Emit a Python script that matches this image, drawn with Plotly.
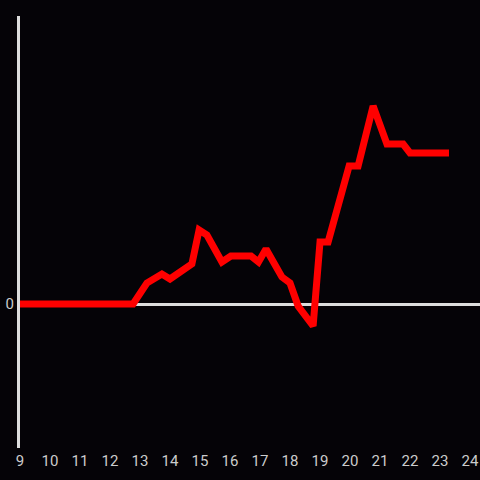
import plotly.graph_objects as go

x_vals = [9.0, 12.77, 13.23, 13.73, 14.0, 14.73, 14.97, 15.23, 15.73, 16.03, 16.7, 16.95, 17.2,
          17.73, 18.0, 18.27, 18.77, 19.0, 19.27, 19.97, 20.27, 20.77, 21.23, 21.77, 22.0, 23.3]
y_vals = [0, 0, 21, 30, 25, 40, 74, 69, 42, 48, 48, 42, 55,
          27, 21, -2, -22, 62, 62, 138, 138, 198, 160, 160, 151, 151]

bg = "#050307"
fig = go.Figure()
fig.add_trace(go.Scatter(x=x_vals, y=y_vals, mode="lines",
                         line=dict(color="#ff0000", width=7), showlegend=False))
fig.update_layout(
    width=480, height=480,
    paper_bgcolor=bg, plot_bgcolor=bg,
    margin=dict(l=20, r=0, t=16, b=32),
    font=dict(family="Roboto, Arial, sans-serif", size=15, color="#cccccc"),
    xaxis=dict(range=[9, 24.333], tickmode="linear", tick0=9, dtick=1,
               showgrid=False, zeroline=False, showline=False, ticks="", automargin=False,
               ticklabelstandoff=2),
    yaxis=dict(range=[-144, 288], tickvals=[0], ticktext=["0"], automargin=False,
               showgrid=False, zeroline=True, zerolinecolor="#dddddd", zerolinewidth=3,
               showline=True, linecolor="#dddddd", linewidth=3, ticks=""),
)
fig.write_html("out.html", config={"displayModeBar": False},
               post_script="document.body.style.margin='0';document.body.style.background='%s';" % bg)
